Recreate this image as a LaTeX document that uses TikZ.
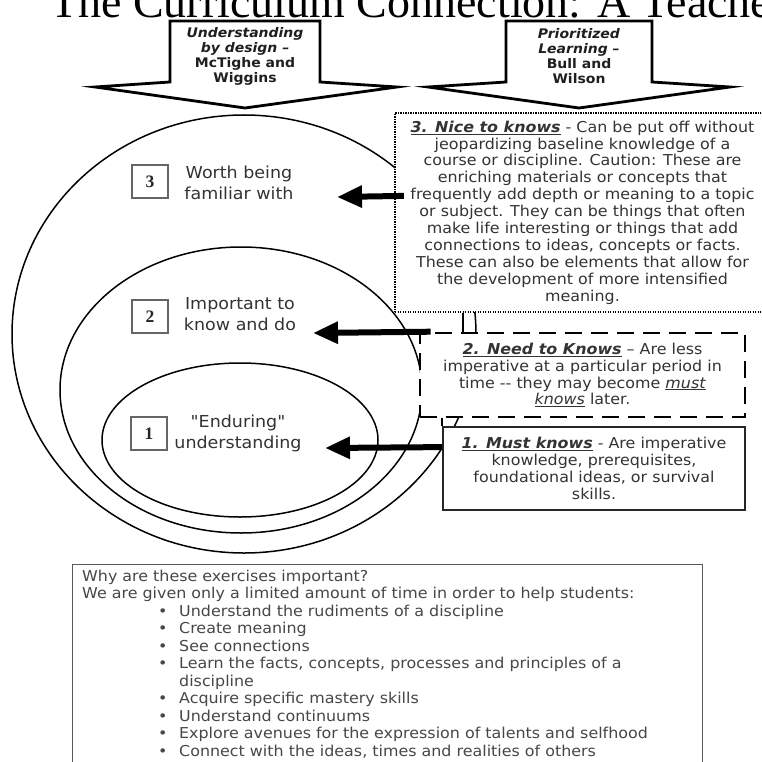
\documentclass[tikz,border=0pt]{standalone}
\usepackage{fontspec}
\usetikzlibrary{arrows.meta,calc}
\newfontfamily\vf[FakeStretch=1.06]{DejaVu Sans}
\newfontfamily\tf{Liberation Serif}
\tikzset{
  boxtxt/.style={font=\vf\fontsize{15}{16.9}\selectfont, text=black!80, align=center, inner sep=0pt},
  nicebox/.style={boxtxt, draw=black, fill=white, line width=2.2pt, dash pattern=on 1.4pt off 1.1pt},
  needbox/.style={boxtxt, draw=black, fill=white, line width=2.6pt, dash pattern=on 17pt off 9pt},
  mustbox/.style={boxtxt, draw=black!85, fill=white, line width=1.8pt},
  lab/.style={font=\vf\fontsize{16.5}{21}\selectfont, align=center, text=black!80, inner sep=0pt},
  numbox/.style={draw=black!60, line width=1.2pt, minimum width=36pt, minimum height=33pt, inner sep=0pt, text=black!85, font=\tf\bfseries\fontsize{17.5}{20}\selectfont},
  bigshape/.style={draw=black, fill=white, line width=2.8pt, line join=miter, miter limit=20},
  arrtxt/.style={font=\vf\bfseries\fontsize{13.2}{15}\selectfont, align=center, text=black!88, inner sep=0pt},
  ring/.style={draw=black, line width=1.5pt},
  bigarr/.style={line width=6pt, -{Triangle[length=25pt,width=21pt]}},
  thin/.style={draw=black, line width=1.5pt},
}
\begin{document}
\begin{tikzpicture}[x=1pt,y=-1pt]
\useasboundingbox (0,0) rectangle (761,762);
\clip (0,0) rectangle (761,762);
\fill[white] (0,0) rectangle (761,762);

% title (cut off at top)
\node[anchor=base west, inner sep=0pt, font=\tf\fontsize{46}{50}\selectfont] (title) at (50,18) {\raisebox{0pt}[\height][0pt]{The Curriculum Connection: A Teache}};

% big down arrows
\path[bigshape] (170,21) -- (170,82) -- (95,87) -- (245,108) -- (397,87) -- (320,82) -- (320,21) -- cycle;
\node[arrtxt] (ubd) at (245,56.5) {\textit{Understanding}\\\textit{by design –}\\McTighe and\\Wiggins};
\path[bigshape] (506,21) -- (506,82) -- (428,87) -- (579,108) -- (730,87) -- (652,82) -- (652,21) -- cycle;
\node[arrtxt] (pl) at (579,56.5) {\textit{Prioritized}\\\textit{Learning –}\\Bull and\\Wilson};

% nested ellipses
\draw[ring] (244,334) ellipse [x radius=232, y radius=219];
\draw[ring] (241,390) ellipse [x radius=181, y radius=143];
\draw[ring] (240,440) ellipse [x radius=138, y radius=77];

% level labels
\node[numbox] (n3) at (150,181.5) {3};
\node[lab] (lab3) at (239,183) {Worth being\\familiar with};
\node[numbox] (n2) at (150,316.5) {2};
\node[lab] (lab2) at (240,314) {Important to\\know and do};
\node[numbox] (n1) at (149,433.5) {1};
\node[lab] (lab1) at (238,433) {"Enduring"\\understanding};

% description boxes
\node[nicebox, minimum width=375pt, minimum height=199pt] (nice) at (582.5,212.5) {%
\underline{\textbf{\textit{3. Nice to knows}}} - Can be put off without\\
jeopardizing baseline knowledge of a\\
course or discipline. Caution: These are\\
enriching materials or concepts that\\
frequently add depth or meaning to a topic\\
or subject. They can be things that often\\
make life interesting or things that add\\
connections to ideas, concepts or facts.\\
These can also be elements that allow for\\
the development of more intensified\\
meaning.};
\node[needbox, minimum width=325pt, minimum height=84pt] (need) at (582.5,375) {%
\underline{\textbf{\textit{2. Need to Knows}}} – Are less\\
imperative at a particular period in\\
time -{}- they may become \underline{\textit{must}}\\
\underline{\textit{knows}} later.};
\node[mustbox, minimum width=302pt, minimum height=83pt] (must) at (594,468.5) {%
\underline{\textbf{\textit{1. Must knows}}} - Are imperative\\
knowledge, prerequisites,\\
foundational ideas, or survival\\
skills.};

% small connectors between boxes
\coordinate (c1) at (463,0);
\draw[thin] (nice.south -| c1) -- (need.north -| c1);
\draw[thin] (need.south -| must.west) -- (must.north west);

% arrows from boxes to levels
\coordinate (t3) at (337,197);
\coordinate (t2) at (313,333);
\coordinate (t1) at (325,448);
\draw[bigarr] ($(nice.north west)+(10,84)$) -- (t3);
\draw[bigarr] ($(need.north west)+(12,0)$) -- (t2);
\draw[bigarr] ($(must.north west)+(0,21)$) -- (t1);

% bottom box
\node[draw=black!65, line width=1.2pt, fill=white, minimum width=630pt, minimum height=210pt, anchor=north west, inner sep=0pt] (why) at (72,564) {};
\node[anchor=north west, inner sep=0pt, align=left, font=\vf\fontsize{15}{17.5}\selectfont, text=black!72] (whytxt) at (82,569.8) {%
Why are these exercises important?\\
We are given only a limited amount of time in order to help students:\\
\hspace*{76pt}\makebox[21pt][l]{•}Understand the rudiments of a discipline\\
\hspace*{76pt}\makebox[21pt][l]{•}Create meaning\\
\hspace*{76pt}\makebox[21pt][l]{•}See connections\\
\hspace*{76pt}\makebox[21pt][l]{•}Learn the facts, concepts, processes and principles of a\\
\hspace*{97pt}discipline\\
\hspace*{76pt}\makebox[21pt][l]{•}Acquire specific mastery skills\\
\hspace*{76pt}\makebox[21pt][l]{•}Understand continuums\\
\hspace*{76pt}\makebox[21pt][l]{•}Explore avenues for the expression of talents and selfhood\\
\hspace*{76pt}\makebox[21pt][l]{•}Connect with the ideas, times and realities of others};
\end{tikzpicture}
\end{document}
